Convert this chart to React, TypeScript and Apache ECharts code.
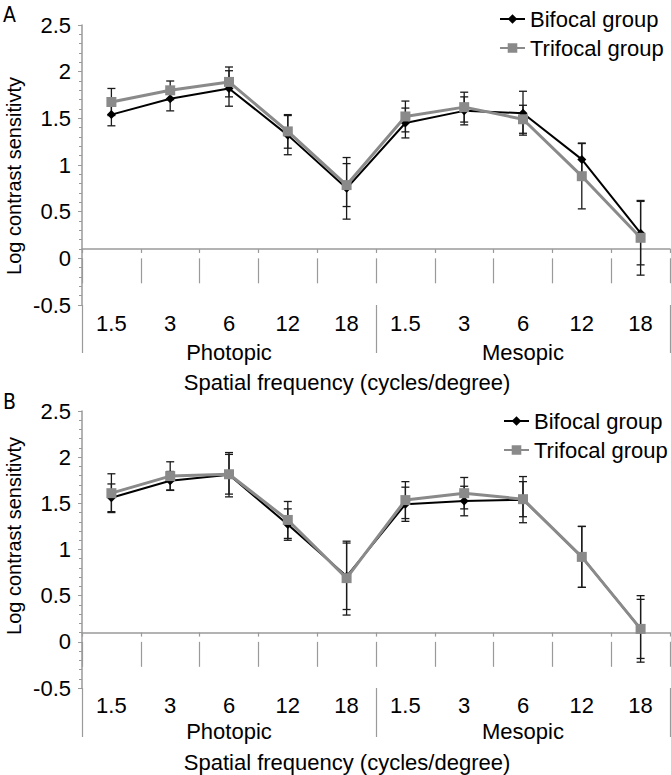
import React, { useEffect, useRef } from "react";
import * as echarts from "echarts";

const categories = ["1.5", "3", "6", "12", "18", "1.5", "3", "6", "12", "18"];
const conditions = ["Photopic", "Mesopic"];
const yTicks = { min: -0.5, max: 2.5, interval: 0.5 };
const axisCross = 0.1;

// Panel A
const bifocalA = [1.54, 1.71, 1.82, 1.32, 0.75, 1.45, 1.58, 1.555, 1.06, 0.27];
const bifocalAErr = [0.12, 0.13, 0.19, 0.21, 0.33, 0.16, 0.15, 0.235, 0.175, 0.34];
const trifocalA = [1.675, 1.8, 1.89, 1.36, 0.785, 1.52, 1.62, 1.49, 0.88, 0.22];
const trifocalAErr = [0.145, 0.1, 0.16, 0.18, 0.23, 0.165, 0.16, 0.15, 0.35, 0.4];

// Panel B
const bifocalB = [1.56, 1.745, 1.81, 1.27, 0.71, 1.49, 1.525, 1.54, 0.92, 0.14];
const bifocalBErr = [0.15, 0.1, 0.24, 0.17, 0.36, 0.185, 0.16, 0.25, 0.33, 0.36];
const trifocalB = [1.61, 1.795, 1.815, 1.32, 0.69, 1.535, 1.61, 1.545, 0.92, 0.14];
const trifocalBErr = [0.21, 0.155, 0.215, 0.2, 0.4, 0.2, 0.17, 0.19, 0.33, 0.32];

const FONT = "'Liberation Sans', Arial, sans-serif";
const AXIS_GRAY = "#9a9a9a";
const FS = 22;

function errData(vals: number[], errs: number[]) {
  return vals.map((v, i) => [i, v - errs[i], v + errs[i]]);
}

function errorSeries(vals: number[], errs: number[], xi: number, yi: number) {
  return {
    type: "custom",
    xAxisIndex: xi,
    yAxisIndex: yi,
    z: 1,
    silent: true,
    encode: { x: 0, y: [1, 2] },
    data: errData(vals, errs),
    renderItem: (params: any, api: any) => {
      const x = api.value(0);
      const lo = api.coord([x, api.value(1)]);
      const hi = api.coord([x, api.value(2)]);
      const w = 4;
      const st = { stroke: "#1a1a1a", lineWidth: 1.3 };
      return {
        type: "group",
        children: [
          { type: "line", shape: { x1: hi[0], y1: hi[1], x2: lo[0], y2: lo[1] }, style: st },
          { type: "line", shape: { x1: hi[0] - w, y1: hi[1], x2: hi[0] + w, y2: hi[1] }, style: st },
          { type: "line", shape: { x1: lo[0] - w, y1: lo[1], x2: lo[0] + w, y2: lo[1] }, style: st },
        ],
      };
    },
  };
}

function lineSeries(name: string, data: number[], xi: number, yi: number, bif: boolean) {
  return {
    name,
    type: "line",
    xAxisIndex: xi,
    yAxisIndex: yi,
    data,
    z: bif ? 3 : 4,
    symbol: bif ? "diamond" : "rect",
    symbolSize: bif ? 9 : 10,
    lineStyle: { color: bif ? "#000000" : "#8a8a8a", width: bif ? 2 : 3 },
    itemStyle: { color: bif ? "#000000" : "#8a8a8a" },
  };
}

const grids = [
  { left: 82, top: 25, width: 588, height: 280 },
  { left: 82, top: 411, width: 588, height: 277 },
];

function xAxesFor(g: number, h: number, catMargin: number, groupMargin: number, groupTick: number, nameGap: number) {
  return [
    {
      type: "category",
      gridIndex: g,
      position: "bottom",
      data: categories,
      boundaryGap: true,
      axisLine: { show: false },
      axisTick: { show: true, interval: 0, length: 25, lineStyle: { color: AXIS_GRAY, width: 1.2 } },
      axisLabel: { interval: 0, fontSize: FS, fontFamily: FONT, color: "#000", margin: catMargin },
      splitLine: { show: false },
    },
    {
      type: "category",
      gridIndex: g,
      position: "bottom",
      data: conditions,
      boundaryGap: true,
      axisLine: { show: false },
      axisTick: { show: true, interval: 0, length: groupTick, lineStyle: { color: AXIS_GRAY, width: 1.2 } },
      axisLabel: { interval: 0, fontSize: FS, fontFamily: FONT, color: "#000", margin: groupMargin },
      name: "Spatial frequency (cycles/degree)",
      nameLocation: "middle",
      nameGap,
      nameTextStyle: { fontSize: FS, fontFamily: FONT, color: "#000", padding: [0, 58, 0, 0] },
      splitLine: { show: false },
    },
    {
      type: "category",
      gridIndex: g,
      position: "bottom",
      offset: -((axisCross - yTicks.min) / (yTicks.max - yTicks.min)) * h,
      data: categories,
      boundaryGap: true,
      axisLine: { show: true, lineStyle: { color: AXIS_GRAY, width: 1.5 } },
      axisTick: { show: true, interval: 0, length: 4, lineStyle: { color: AXIS_GRAY, width: 1.2 } },
      axisLabel: { show: false },
      splitLine: { show: false },
    },
  ];
}

function yAxisFor(g: number) {
  return {
    type: "value",
    gridIndex: g,
    min: yTicks.min,
    max: yTicks.max,
    interval: yTicks.interval,
    axisLine: { show: true, lineStyle: { color: AXIS_GRAY, width: 1.5 } },
    axisTick: { show: true, length: 4, lineStyle: { color: AXIS_GRAY } },
    minorTick: { show: true, splitNumber: 5, length: 3, lineStyle: { color: AXIS_GRAY } },
    splitLine: { show: false },
    minorSplitLine: { show: false },
    axisLabel: { fontSize: FS, fontFamily: FONT, color: "#000", margin: 11 },
  };
}

function legendFor(top: number, left: number) {
  return {
    orient: "vertical",
    left,
    top,
    padding: 0,
    itemGap: 7,
    itemWidth: 25,
    itemHeight: 12,
    textStyle: { fontSize: FS, fontFamily: FONT, color: "#000" },
    data: ["Bifocal group", "Trifocal group"],
  };
}

export default function App() {
  const ref = useRef<HTMLDivElement>(null);
  useEffect(() => {
    if (!ref.current) return;
    const chart = echarts.init(ref.current, undefined, { renderer: "svg" });
    const option: any = {
      animation: false,
      backgroundColor: "#ffffff",
      grid: grids,
      xAxis: [
        ...xAxesFor(0, grids[0].height, 7, 36, 48, 66),
        ...xAxesFor(1, grids[1].height, 6, 32, 49, 63),
      ],
      yAxis: [yAxisFor(0), yAxisFor(1)],
      legend: [legendFor(8, 499), legendFor(410, 503)],
      graphic: [
        { type: "text", left: 3, top: 4, style: { text: "A", fontSize: 21, fontFamily: "'Liberation Sans Narrow', 'DejaVu Sans Condensed', sans-serif", fill: "#000" } },
        { type: "text", left: 3, top: 391, style: { text: "B", fontSize: 21, fontFamily: "'Liberation Sans Narrow', 'DejaVu Sans Condensed', sans-serif", fill: "#000" } },
        { type: "text", x: 14, y: 176, rotation: Math.PI / 2, style: { text: "Log contrast sensitivty", fontSize: 20, fontFamily: FONT, fill: "#000", align: "center", verticalAlign: "middle" } },
        { type: "text", x: 14, y: 536, rotation: Math.PI / 2, style: { text: "Log contrast sensitivty", fontSize: 20, fontFamily: FONT, fill: "#000", align: "center", verticalAlign: "middle" } },
      ],
      series: [
        errorSeries(bifocalA, bifocalAErr, 0, 0),
        errorSeries(trifocalA, trifocalAErr, 0, 0),
        lineSeries("Bifocal group", bifocalA, 0, 0, true),
        lineSeries("Trifocal group", trifocalA, 0, 0, false),
        errorSeries(bifocalB, bifocalBErr, 3, 1),
        errorSeries(trifocalB, trifocalBErr, 3, 1),
        lineSeries("Bifocal group", bifocalB, 3, 1, true),
        lineSeries("Trifocal group", trifocalB, 3, 1, false),
      ],
    };
    chart.setOption(option);
    return () => chart.dispose();
  }, []);
  return (
    <div
      ref={ref}
      style={{ position: "fixed", left: 0, top: 0, width: 671, height: 775, background: "#fff" }}
    />
  );
}
